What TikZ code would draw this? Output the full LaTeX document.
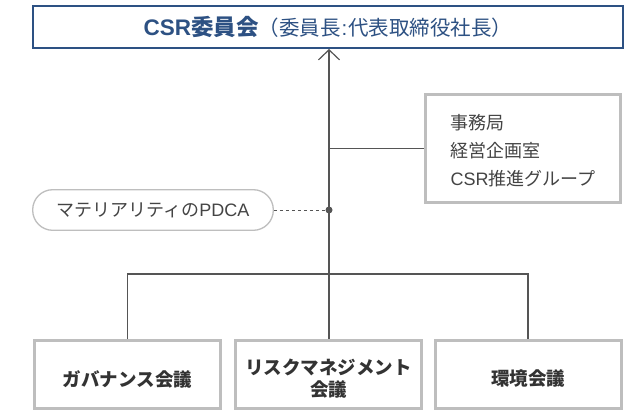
\documentclass[tikz,border=0pt]{standalone}
\usepackage{fontspec}
\setmainfont{Noto Sans CJK JP}
\newfontfamily\lat{Liberation Sans}
\usetikzlibrary{arrows.meta}
\definecolor{navy}{HTML}{2D5183}
\definecolor{boxgray}{HTML}{BEBEBE}
\definecolor{linegray}{HTML}{555555}
\definecolor{txtgray}{HTML}{444444}
\definecolor{darktxt}{HTML}{333333}
\begin{document}
\begin{tikzpicture}[x=1pt,y=-1pt,
  titlebox/.style={draw=navy, line width=2pt, minimum width=590pt, minimum height=42pt, inner sep=0pt, text=navy},
  infobox/.style={draw=boxgray, line width=3pt, minimum width=195pt, minimum height=108pt, inner sep=0pt},
  infotext/.style={inner sep=0pt, align=left, text=txtgray, font=\fontsize{18}{28}\selectfont},
  pill/.style={draw=boxgray, line width=1.3pt, rounded corners=20pt, minimum width=240.6pt, minimum height=40.6pt, inner sep=0pt, text=txtgray, font=\fontsize{18}{22}\selectfont},
  council/.style={draw=boxgray, line width=3pt, minimum width=186pt, minimum height=68pt, inner sep=0pt},
  counciltext/.style={inner sep=0pt, align=center, text=darktxt, font=\bfseries\fontsize{18.5}{22}\selectfont},
  conn/.style={draw=linegray, line width=1.2pt},
  dotted conn/.style={draw=linegray, line width=1pt, dash pattern=on 3.5pt off 2.5pt},
  jdot/.style={circle, fill=linegray, inner sep=0pt, minimum size=7pt}
]
\useasboundingbox (0,0) rectangle (640,412);
\fill[white] (0,0) rectangle (640,412);

\node[titlebox] (top) at (328,27) {{\bfseries\fontsize{22.5}{26}\selectfont{\lat CSR}委員会}{\fontsize{20.5}{24}\selectfont（委員長\kern1pt{\lat :}\kern1pt 代表取締役社長）}};

\node[infobox] (rbox) at (523,148.5) {};
\node[infotext] (rtext) at (523,151) {事務局\\経営企画室\\{\lat CSR}推進グループ};

\node[pill] (pill) at (153,210) {マテリアリティの{\lat PDCA}};

\node[jdot] (dot) at (329,210) {};
\coordinate (bus) at (329,274);

\node[council] (b1) at (127.5,374.5) {};
\node[council] (b2) at (328.5,374.5) {};
\node[council] (b3) at (528,374.5) {};
\node[counciltext] (t1) at (127.5,379) {ガバナンス会議};
\node[counciltext] (t2) at (328.5,379) {リスクマネジメント\\会議};
\node[counciltext] (t3) at (528,379) {環境会議};

\draw[conn, -{Straight Barb[length=10pt,width=21pt]}] (bus) -- (bus |- top.south);
\draw[conn] (dot |- rbox.west) -- (rbox.west);
\draw[dotted conn] (pill.east) -- (dot);
\draw[conn] (b1.north) |- (bus) -| (b3.north);
\draw[conn] (bus) -- (bus |- b2.north);
\end{tikzpicture}
\end{document}
